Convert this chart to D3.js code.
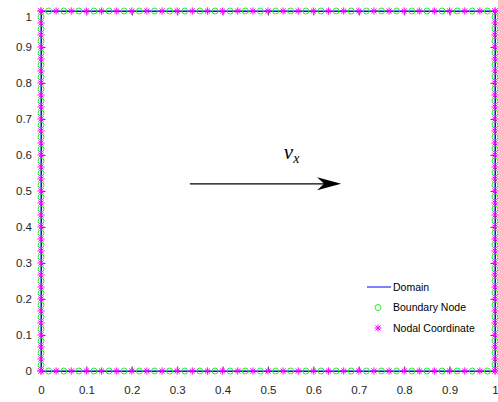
<!DOCTYPE html>
<html>
<head>
<meta charset="utf-8">
<script src="https://cdn.jsdelivr.net/npm/d3@7"></script>
<style>
  html, body { margin: 0; padding: 0; background: #fff; }
  svg { display: block; }
</style>
</head>
<body>
<script>
// Unit square domain with nodes spaced along its boundary
const domainX = [0, 1, 1, 0, 0];
const domainY = [0, 0, 1, 1, 0];

// Positions along each edge: nodal coordinates and boundary nodes (midpoints)
const nodalParams = [0, 0.0333, 0.0667, 0.1, 0.1333, 0.1667, 0.2, 0.2333, 0.2667, 0.3,
  0.3333, 0.3667, 0.4, 0.4333, 0.4667, 0.5, 0.5333, 0.5667, 0.6, 0.6333, 0.6667,
  0.7, 0.7333, 0.7667, 0.8, 0.8333, 0.8667, 0.9, 0.9333, 0.9667, 1];
const boundaryParams = [0.0167, 0.05, 0.0833, 0.1167, 0.15, 0.1833, 0.2167, 0.25, 0.2833,
  0.3167, 0.35, 0.3833, 0.4167, 0.45, 0.4833, 0.5167, 0.55, 0.5833, 0.6167, 0.65,
  0.6833, 0.7167, 0.75, 0.7833, 0.8167, 0.85, 0.8833, 0.9167, 0.95, 0.9833];

const xTicks = [0, 0.1, 0.2, 0.3, 0.4, 0.5, 0.6, 0.7, 0.8, 0.9, 1];
const yTicks = [0, 0.1, 0.2, 0.3, 0.4, 0.5, 0.6, 0.7, 0.8, 0.9, 1];
const tickLabels = ["0", "0.1", "0.2", "0.3", "0.4", "0.5", "0.6", "0.7", "0.8", "0.9", "1"];

// Velocity arrow (data coordinates) and its label
const arrowStart = [0.328, 0.52];
const arrowEnd = [0.661, 0.52];
const arrowLabelPos = [0.552, 0.59];

const legendItems = ["Domain", "Boundary Node", "Nodal Coordinate"];

const W = 498, H = 402;
const margin = { left: 41, right: 3, top: 11, bottom: 31 };

const svg = d3.select("body").append("svg").attr("width", W).attr("height", H);

const x = d3.scaleLinear().domain([0, 1]).range([margin.left, W - margin.right]);
const y = d3.scaleLinear().domain([0, 1]).range([H - margin.bottom, margin.top]);

const axisColor = "#262626";
const font = "'Liberation Sans', Arial, Helvetica, sans-serif";

// Edge nodes: bottom, right, top, left
function edgePoints(params) {
  const pts = [];
  params.forEach(t => pts.push([t, 0]));
  params.forEach(t => pts.push([1, t]));
  params.forEach(t => pts.push([t, 1]));
  params.forEach(t => pts.push([0, t]));
  return pts;
}
const boundaryPts = edgePoints(boundaryParams);
const nodalPts = edgePoints(nodalParams);

// Axes
const gx = svg.append("g").attr("transform", `translate(0,${y(0)})`)
  .call(d3.axisBottom(x).tickValues(xTicks).tickSizeInner(-4.5).tickSizeOuter(0)
    .tickFormat((d, i) => tickLabels[i]).tickPadding(15));
const gy = svg.append("g").attr("transform", `translate(${x(0)},0)`)
  .call(d3.axisLeft(y).tickValues(yTicks).tickSizeInner(-4.5).tickSizeOuter(0)
    .tickFormat((d, i) => tickLabels[i]).tickPadding(9));
const gxTop = svg.append("g").attr("transform", `translate(0,${y(1)})`)
  .call(d3.axisTop(x).tickValues(xTicks).tickSizeInner(-4.5).tickSizeOuter(0).tickFormat(""));
const gyRight = svg.append("g").attr("transform", `translate(${x(1)},0)`)
  .call(d3.axisRight(y).tickValues(yTicks).tickSizeInner(-4.5).tickSizeOuter(0).tickFormat(""));

[gx, gy, gxTop, gyRight].forEach(g => {
  g.select(".domain").attr("stroke", axisColor).attr("stroke-width", 1);
  g.selectAll(".tick line").attr("stroke", axisColor).attr("stroke-width", 0.8);
  g.selectAll(".tick text").attr("fill", axisColor)
    .style("font-family", font).style("font-size", "11.5px");
});
// the top y label sits a little below its tick so it stays inside the figure
gy.selectAll(".tick text").filter(d => d === 1).attr("dy", "0.85em");

// Domain outline
const line = d3.line().x(d => x(d[0])).y(d => y(d[1]));
svg.append("path")
  .datum(domainX.map((v, i) => [v, domainY[i]]))
  .attr("d", line).attr("fill", "none").attr("stroke", "#0000ff").attr("stroke-width", 1);

// Boundary nodes (circles)
const green = "#22ee22";
svg.append("g").selectAll("circle").data(boundaryPts).join("circle")
  .attr("cx", d => x(d[0])).attr("cy", d => y(d[1])).attr("r", 3)
  .attr("fill", "none").attr("stroke", green).attr("stroke-width", 1);

// Nodal coordinates (asterisks)
const magenta = "#ff00ff";
function asterisk(g, cx, cy, s) {
  const d = s * 0.7071;
  g.append("path")
    .attr("d", `M${cx - s},${cy}L${cx + s},${cy}M${cx},${cy - s}L${cx},${cy + s}` +
      `M${cx - d},${cy - d}L${cx + d},${cy + d}M${cx - d},${cy + d}L${cx + d},${cy - d}`)
    .attr("stroke", magenta).attr("stroke-width", 1).attr("fill", "none");
}
const gStar = svg.append("g");
nodalPts.forEach(p => asterisk(gStar, x(p[0]), y(p[1]), 3.6));

// Velocity arrow
const ax0 = x(arrowStart[0]), ax1 = x(arrowEnd[0]), ay = y(arrowStart[1]);
svg.append("line").attr("x1", ax0).attr("y1", ay).attr("x2", ax1 - 12).attr("y2", ay)
  .attr("stroke", "#000").attr("stroke-width", 1.2);
svg.append("path")
  .attr("d", `M${ax1},${ay}L${ax1 - 24},${ay - 6.5}L${ax1 - 17},${ay}L${ax1 - 24},${ay + 6.5}Z`)
  .attr("fill", "#000");

const lbl = svg.append("text")
  .attr("x", x(arrowLabelPos[0])).attr("y", y(arrowLabelPos[1]))
  .attr("text-anchor", "middle")
  .style("font-family", "'Liberation Serif', 'DejaVu Serif', serif")
  .style("font-style", "italic");
lbl.append("tspan").style("font-size", "21px").text("v");
lbl.append("tspan").style("font-size", "14px").attr("dy", 4).text("x");

// Legend
const lg = svg.append("g").style("font-family", font).style("font-size", "10.5px");
const legendY = [287, 307.5, 328];
const lx = 378;
lg.append("line").attr("x1", lx - 11).attr("x2", lx + 13).attr("y1", legendY[0]).attr("y2", legendY[0])
  .attr("stroke", "#0000ff").attr("stroke-width", 1);
lg.append("circle").attr("cx", lx).attr("cy", legendY[1]).attr("r", 3)
  .attr("fill", "none").attr("stroke", green).attr("stroke-width", 1);
asterisk(lg, lx, legendY[2], 3.6);
lg.selectAll("text").data(legendItems).join("text")
  .attr("x", 393).attr("y", (d, i) => legendY[i]).attr("dy", "0.35em")
  .attr("fill", "#000").text(d => d);
</script>
</body>
</html>
